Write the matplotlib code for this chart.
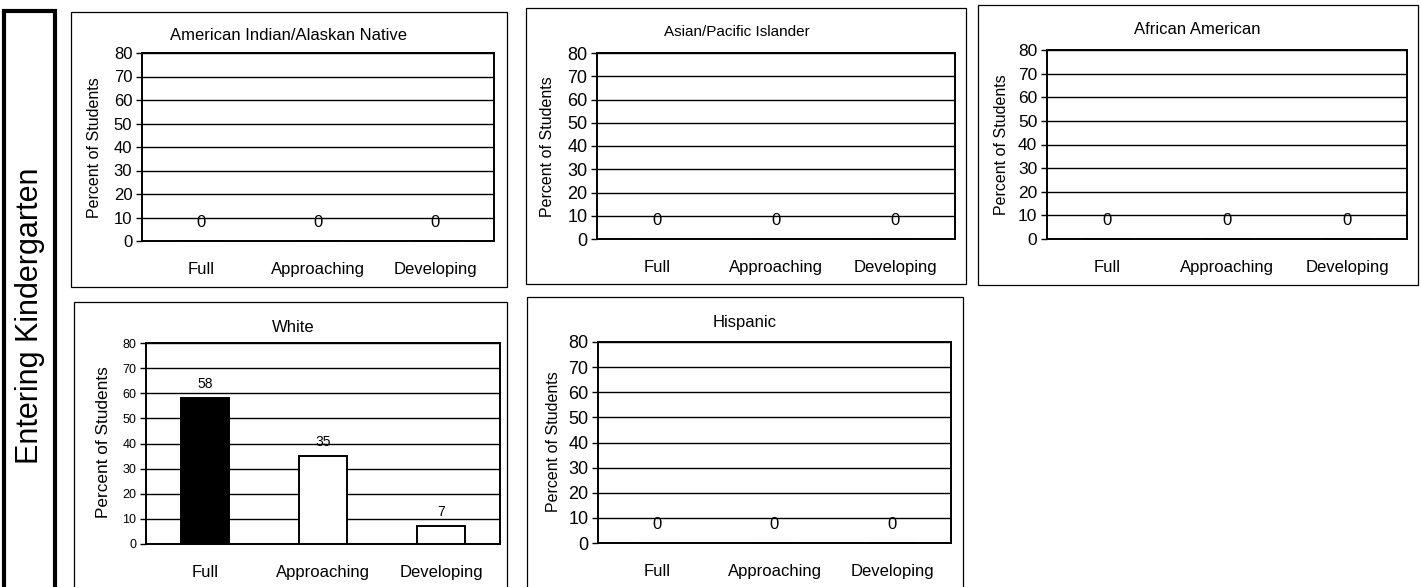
import matplotlib
matplotlib.use("Agg")
import matplotlib.pyplot as plt
from matplotlib.patches import Rectangle

plt.rcParams['font.family'] = ['Liberation Sans', 'DejaVu Sans']

# Data
categories = ["Full", "Approaching", "Developing"]
groups = ["American Indian/Alaskan Native", "Asian/Pacific Islander", "African American",
          "White", "Hispanic"]
amer_indian = [0, 0, 0]
asian = [0, 0, 0]
african_am = [0, 0, 0]
white = [58, 35, 7]
hispanic = [0, 0, 0]
values = [amer_indian, asian, african_am, white, hispanic]
y_ticks = [0, 10, 20, 30, 40, 50, 60, 70, 80]

W, H = 1421, 587
fig = plt.figure(figsize=(W / 100, H / 100), dpi=100)


def px_rect(x0, y0, x1, y1):
    # pixel box (top-left origin) -> figure fraction
    return [x0 / W, 1 - y1 / H, (x1 - x0) / W, (y1 - y0) / H]


def box(x0, y0, x1, y1, lw=1.0):
    r = Rectangle((x0 / W, 1 - y1 / H), (x1 - x0) / W, (y1 - y0) / H,
                  transform=fig.transFigure, fill=False, ec="black", lw=lw)
    fig.patches.append(r)


def ftext(x, y, s, **kw):
    fig.text(x / W, 1 - y / H, s, ha="center", va="center", **kw)


# left label box
box(4, 11, 55, 592, lw=3)
ftext(30, 316, "Entering Kindergarten", rotation=90, fontsize=22)

# panel frames, axes areas, title and ylabel positions (pixels)
frames = [(71, 12, 507, 287), (526, 8, 966, 284), (978, 5, 1418, 285),
          (74, 302, 507, 592), (527, 297, 963, 592)]
axes_px = [(142, 53, 494, 241), (597, 53, 955, 239), (1047, 50, 1407, 239),
           (146, 343, 500, 544), (598, 342, 951, 543)]
titles_xy = [(289, 35), (737, 32), (1197, 30), (293, 327), (745, 322)]
ylab_xy = [(94, 148), (548, 147), (1001, 145), (104, 442), (553, 442)]
title_fs = [12, 11, 12, 12, 12]
tick_fs = [12, 13, 12.5, 9, 13]
ylab_fs = [11.5, 11.5, 11.5, 12.4, 11.5]
val_fs = [12, 12, 12, 10, 12]

for i in range(5):
    box(*frames[i], lw=0.9)
    ax = fig.add_axes(px_rect(*axes_px[i]))
    vals = values[i]
    colors = ["black", "white", "white"] if i == 3 else ["white"] * 3
    bars = ax.bar(range(3), vals, width=0.4, color=colors, edgecolor="black", lw=1.4, zorder=3)
    off = 5 if i == 3 else 8
    for b, v in zip(bars, vals):
        ax.annotate(str(v), (b.get_x() + b.get_width() / 2, v), xytext=(0, off),
                    textcoords="offset points", ha="center", va="bottom",
                    fontsize=val_fs[i])
    ax.set_ylim(0, 80)
    ax.set_xlim(-0.5, 2.5)
    ax.set_yticks(y_ticks)
    ax.set_yticklabels([str(t) for t in y_ticks], fontsize=tick_fs[i])
    ax.set_xticks(range(3))
    ax.set_xticklabels(categories, fontsize=12)
    ax.tick_params(axis="x", length=0, pad=15)
    ax.tick_params(axis="y", length=4, width=1, pad=3)
    ax.yaxis.grid(True, color="black", lw=1)
    ax.set_axisbelow(True)
    for s in ax.spines.values():
        s.set_linewidth(1.4)
    ftext(*ylab_xy[i], "Percent of Students", rotation=90, fontsize=ylab_fs[i])
    ftext(*titles_xy[i], groups[i], fontsize=title_fs[i])

fig.savefig("out.png", dpi=100)
